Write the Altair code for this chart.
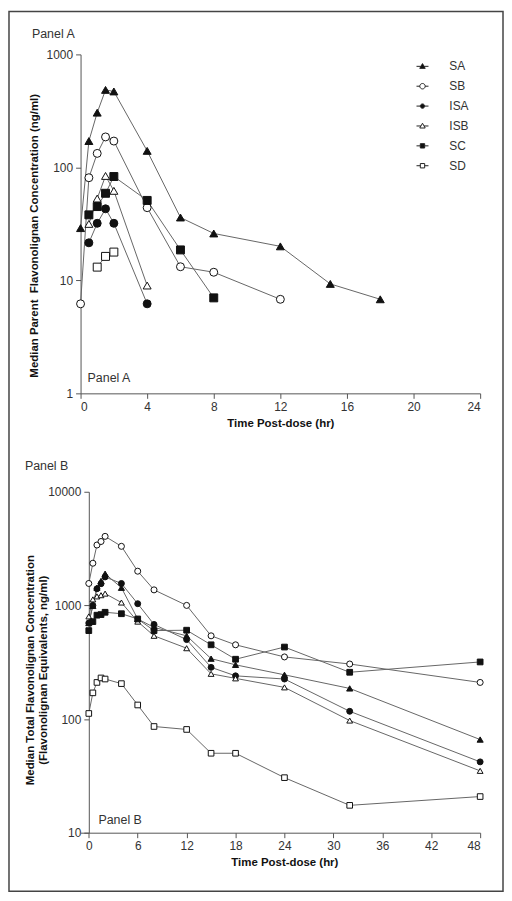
import altair as alt
import pandas as pd

SERIES = ["SA", "SB", "ISA", "ISB", "SC", "SD"]

# ---------------- Panel A : parent flavonolignan (ng/ml) ----------------
A_SA_T = [0, 0.5, 1, 1.5, 2, 4, 6, 8, 12, 15, 18]
A_SA_V = [29, 171, 305, 485, 470, 140, 36, 26, 20, 9.3, 6.8]
A_SB_T = [0, 0.5, 1, 1.5, 2, 4, 6, 8, 12]
A_SB_V = [6.2, 81, 133, 186, 171, 44, 13.2, 11.8, 6.8]
A_ISA_T = [0.5, 1, 1.5, 2, 4]
A_ISA_V = [21.5, 32, 43, 32, 6.2]
A_ISB_T = [0.5, 1, 1.5, 2, 4]
A_ISB_V = [31.6, 53, 84, 62, 9.0]
A_SC_T = [0.5, 1, 1.5, 2, 4, 6, 8]
A_SC_V = [38, 45, 59, 83, 51, 18.6, 7.0]
A_SD_T = [1, 1.5, 2]
A_SD_V = [13.1, 16.3, 17.8]

# ---------------- Panel B : total flavonolignan (ng/ml equivalents) -----
B_T = [0, 0.5, 1, 1.5, 2, 4, 6, 8, 12, 15, 18, 24, 32, 48]
B_SA_V = [700, 990, 1430, 1640, 1900, 1430, 760, 640, 540, 340, 300, 245, 186, 66]
B_SB_V = [1560, 2350, 3400, 3650, 4050, 3310, 2000, 1370, 1000, 540, 450, 352, 305, 210]
B_ISA_V = [700, 1000, 1400, 1550, 1780, 1560, 1035, 680, 500, 285, 240, 225, 117, 42]
B_ISB_V = [800, 1130, 1200, 1230, 1270, 1060, 720, 540, 420, 250, 228, 190, 97, 35]
B_SC_V = [600, 720, 820, 830, 870, 845, 760, 600, 605, 450, 336, 430, 258, 318]
B_SD_V = [112, 170, 210, 230, 225, 205, 133, 86, 81, 50, 50, 30.5, 17.4, 20.8]

A_X_TICKS = [0, 4, 8, 12, 16, 20, 24]
A_Y_TICKS = [1, 10, 100, 1000]
B_X_TICKS = [0, 6, 12, 18, 24, 30, 36, 42, 48]
B_Y_TICKS = [10, 100, 1000, 10000]


def long(pairs):
    rows = []
    for name, ts, vs in pairs:
        for t, v in zip(ts, vs):
            rows.append({"series": name, "t": t, "v": v})
    return pd.DataFrame(rows)


df_a = long([
    ("SA", A_SA_T, A_SA_V), ("SB", A_SB_T, A_SB_V), ("ISA", A_ISA_T, A_ISA_V),
    ("ISB", A_ISB_T, A_ISB_V), ("SC", A_SC_T, A_SC_V), ("SD", A_SD_T, A_SD_V),
])
df_b = long([
    ("SA", B_T, B_SA_V), ("SB", B_T, B_SB_V), ("ISA", B_T, B_ISA_V),
    ("ISB", B_T, B_ISB_V), ("SC", B_T, B_SC_V), ("SD", B_T, B_SD_V),
])

FONT = "Liberation Sans"
LINE_COLOR = "#666666"
SHAPES = ["triangle-up", "circle", "circle", "triangle-up", "square", "square"]
FILLS = ["#111111", "#ffffff", "#111111", "#ffffff", "#111111", "#ffffff"]
SIZES_A = [64, 64, 28, 64, 36, 40]
SIZES_B = [38, 32, 26, 38, 30, 30]

TRI = "M0,-1L1,0.75L-1,0.75Z"
STUB_TRI = "M-2.2,0L-0.57,0M0.57,0L2.2,0"
STUB_1 = "M-2.2,0L-1,0M1,0L2.2,0"
STUB_08 = "M-2.2,0L-0.8,0M0.8,0L2.2,0"
LEG_PATHS = [
    STUB_TRI + TRI,
    STUB_1 + "M1,0A1,1 0 1,1 -1,0A1,1 0 1,1 1,0Z",
    STUB_08 + "M0.8,0A0.8,0.8 0 1,1 -0.8,0A0.8,0.8 0 1,1 0.8,0Z",
    STUB_TRI + TRI,
    STUB_08 + "M-0.8,-0.8L0.8,-0.8L0.8,0.8L-0.8,0.8Z",
    STUB_08 + "M-0.8,-0.8L0.8,-0.8L0.8,0.8L-0.8,0.8Z",
]

dummy = pd.DataFrame({"k": [0]})


def panel(df, x_scale, y_scale, x_axis, y_axis, sizes):
    base = alt.Chart(df)
    lines = base.mark_line(color=LINE_COLOR, strokeWidth=1).encode(
        x=alt.X("t:Q", scale=x_scale, axis=x_axis),
        y=alt.Y("v:Q", scale=y_scale, axis=y_axis),
        detail="series:N",
    )
    points = base.mark_point(opacity=1, stroke="#111111", strokeWidth=1).encode(
        x=alt.X("t:Q", scale=x_scale, axis=x_axis),
        y=alt.Y("v:Q", scale=y_scale, axis=y_axis),
        shape=alt.Shape("series:N", scale=alt.Scale(domain=SERIES, range=SHAPES), legend=None),
        fill=alt.Fill("series:N", scale=alt.Scale(domain=SERIES, range=FILLS), legend=None),
        size=alt.Size("series:N", scale=alt.Scale(domain=SERIES, range=sizes), legend=None),
    )
    return lines, points


axis_common = dict(
    domainColor="#555555", tickColor="#555555", tickSize=5, labelColor="#333333",
    labelFont=FONT, labelFontSize=12, titleFont=FONT, titleFontSize=11.5,
    titleFontWeight="bold", titleColor="#111111", grid=False, labelPadding=3,
)

# ---------------- Panel A chart ----------------
xa = alt.Scale(domain=[0, 24], nice=False, zero=False)
ya = alt.Scale(type="log", domain=[1, 1000], nice=False)
xa_axis = alt.Axis(values=A_X_TICKS, format="d", title="Time Post-dose (hr)", titlePadding=5, **axis_common)
ya_axis = alt.Axis(values=A_Y_TICKS, format="d",
                   title="Median Parent\u00a0 Flavonolignan Concentration (ng/ml)",
                   titlePadding=7, titleY=182, **axis_common)
lines_a, points_a = panel(df_a, xa, ya, xa_axis, ya_axis, SIZES_A)

leg_kw = dict(title=None, orient="none", legendX=338, legendY=6, symbolSize=30,
              symbolStrokeWidth=1, labelFont=FONT,
              labelFontSize=12, labelColor="#333333", labelOffset=21, rowPadding=8, padding=0)
legend_layer = alt.Chart(pd.DataFrame({"series": SERIES})).transform_filter("false").mark_point(
    opacity=1, stroke="#222222", strokeWidth=1
).encode(
    shape=alt.Shape("series:N", scale=alt.Scale(domain=SERIES, range=LEG_PATHS),
                    legend=alt.Legend(**leg_kw)),
    fill=alt.Fill("series:N", scale=alt.Scale(domain=SERIES, range=FILLS),
                  legend=alt.Legend(**leg_kw)),
)

text_style = dict(align="left", baseline="middle", font=FONT, fontSize=12.5, color="#333333")
inner_a = alt.Chart(dummy).mark_text(**text_style).encode(
    x=alt.datum(0.42, scale=xa), y=alt.datum(1.36, scale=ya), text=alt.value("Panel A"))
top_a = alt.Chart(dummy).mark_text(**text_style).encode(
    x=alt.datum(-2.92, scale=xa), y=alt.datum(1510, scale=ya), text=alt.value("Panel A"))

frame = alt.Chart(dummy).mark_rect(fill="transparent", stroke="#444444", strokeWidth=1.5).encode(
    x=alt.value(-72), x2=alt.value(425), y=alt.value(-43.25), y2=alt.value(842))

chart_a = alt.layer(lines_a, points_a, legend_layer, inner_a, top_a, frame).resolve_scale(
    shape="independent", fill="independent", size="independent"
).properties(width=402, height=341)

# ---------------- Panel B chart ----------------
xb = alt.Scale(domain=[-1.01, 48], nice=False, zero=False)
yb = alt.Scale(type="log", domain=[10, 10000], nice=False)
xb_axis = alt.Axis(values=B_X_TICKS, format="d", title="Time Post-dose (hr)", titlePadding=5,
                   titleX=205, **axis_common)
yb_axis = alt.Axis(values=B_Y_TICKS, format="d", offset=-8.3,
                   title=["Median Total Flavonolignan Concentration", "(Flavonolignan Equivalents, ng/ml)"],
                   titlePadding=-1, titleY=179, titleLineHeight=13, **axis_common)
lines_b, points_b = panel(df_b, xb, yb, xb_axis, yb_axis, SIZES_B)

inner_b = alt.Chart(dummy).mark_text(**text_style).encode(
    x=alt.datum(1.18, scale=xb), y=alt.datum(13.0, scale=yb), text=alt.value("Panel B"))
top_b = alt.Chart(dummy).mark_text(**text_style).encode(
    x=alt.datum(-7.84, scale=xb), y=alt.datum(16750, scale=yb), text=alt.value("Panel B"))

chart_b = alt.layer(lines_b, points_b, inner_b, top_b).properties(width=402, height=343)

chart = alt.vconcat(chart_a, chart_b, spacing=99, bounds="flush", padding=0).configure_view(
    strokeWidth=0
)

chart.save("out.html", embed_options={"renderer": "svg", "actions": False})
